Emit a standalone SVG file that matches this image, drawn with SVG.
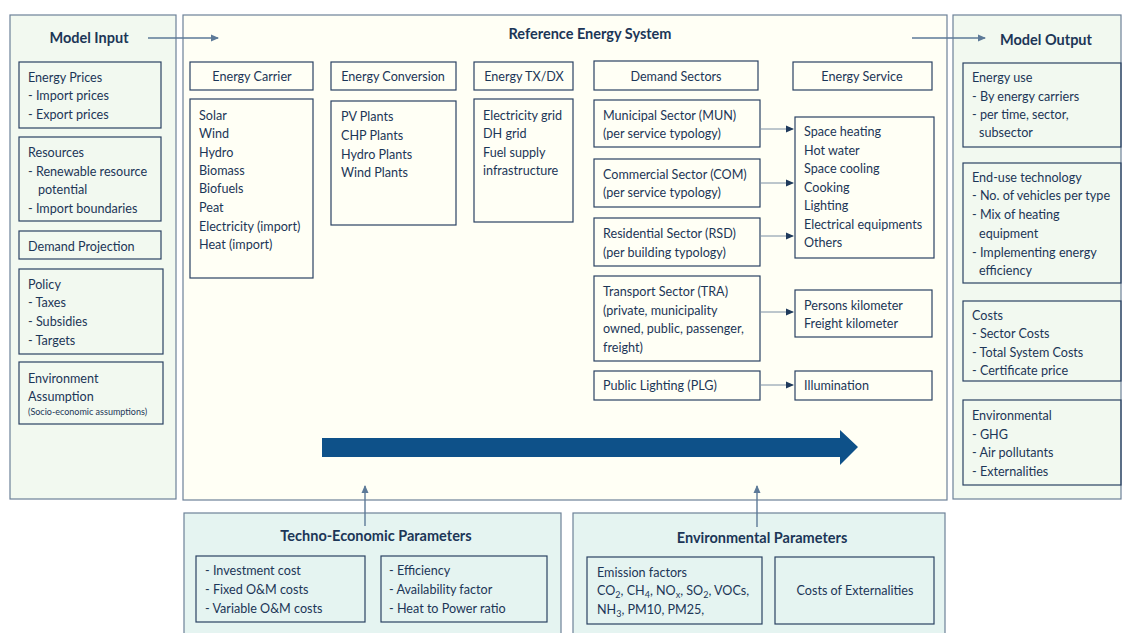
<svg xmlns="http://www.w3.org/2000/svg" width="1124" height="633" viewBox="0 0 1124 633">
  <style>
    text { font-family: Lato, "Open Sans", "Liberation Sans", sans-serif; fill: #1c3657; font-size: 12.6px; }
    .title { font-weight: bold; font-size: 14.5px; }
    .c { text-anchor: middle; }
    .small { font-size: 9px; }
    .panel { stroke: #6d8198; stroke-width: 1.2; }
    .side { fill: #f2f9f0; }
    .core { fill: #fffff5; }
    .param { fill: #e5f4f1; }
    .box { fill: none; stroke: #2a4263; stroke-width: 1.2; }
    .link { stroke: #5d7a98; stroke-width: 1.4; fill: none; }
    .thin { stroke: #7a8ea3; stroke-width: 1; fill: none; }
  </style>
  <defs>
    <marker id="tri" markerWidth="8" markerHeight="8" refX="7" refY="4" orient="auto" markerUnits="userSpaceOnUse">
      <path d="M0,0.5 L8,4 L0,7.5 Z" fill="#5d7a98"/>
    </marker>
    <marker id="triDark" markerWidth="8" markerHeight="8" refX="7" refY="4" orient="auto" markerUnits="userSpaceOnUse">
      <path d="M0,0.5 L8,4 L0,7.5 Z" fill="#1f3a5c"/>
    </marker>
  </defs>

  <rect width="1124" height="633" fill="#ffffff"/>

  <!-- Model input column -->
  <g id="model-input">
    <rect class="panel side" x="10" y="15" width="166" height="484"/>
    <text class="title c" x="89" y="43">Model Input</text>
  </g>
  <g id="energy-prices">
    <rect class="box" x="19" y="62" width="142" height="66"/>
    <text x="28" y="82">Energy Prices</text>
    <text x="28" y="100">- Import prices</text>
    <text x="28" y="119">- Export prices</text>
  </g>
  <g id="resources">
    <rect class="box" x="19" y="137" width="142" height="84"/>
    <text x="28" y="157">Resources</text>
    <text x="28" y="176">- Renewable resource</text>
    <text x="38" y="194">potential</text>
    <text x="28" y="213">- Import boundaries</text>
  </g>
  <g id="demand-projection">
    <rect class="box" x="19" y="231" width="142" height="28"/>
    <text x="28" y="251">Demand Projection</text>
  </g>
  <g id="policy">
    <rect class="box" x="19" y="269" width="144" height="85"/>
    <text x="28" y="289">Policy</text>
    <text x="28" y="307">- Taxes</text>
    <text x="28" y="326">- Subsidies</text>
    <text x="28" y="345">- Targets</text>
  </g>
  <g id="environment-assumption">
    <rect class="box" x="19" y="362" width="144" height="62"/>
    <text x="28" y="383">Environment</text>
    <text x="28" y="401">Assumption</text>
    <text class="small" x="28" y="415">(Socio-economic assumptions)</text>
  </g>

  <!-- Reference energy system -->
  <g id="reference-energy-system">
    <rect class="panel core" x="183" y="15" width="764" height="485"/>
    <text class="title c" x="590" y="39">Reference Energy System</text>
  </g>
  <g id="energy-carrier">
    <rect class="box" x="190" y="62" width="123" height="28"/>
    <text class="c" x="252" y="81">Energy Carrier</text>
    <rect class="box" x="190" y="99" width="123" height="179"/>
    <text x="199" y="120">Solar</text>
    <text x="199" y="138">Wind</text>
    <text x="199" y="157">Hydro</text>
    <text x="199" y="175">Biomass</text>
    <text x="199" y="193">Biofuels</text>
    <text x="199" y="212">Peat</text>
    <text x="199" y="231">Electricity (import)</text>
    <text x="199" y="249">Heat (import)</text>
  </g>
  <g id="energy-conversion">
    <rect class="box" x="331" y="62" width="125" height="28"/>
    <text class="c" x="393" y="81">Energy Conversion</text>
    <rect class="box" x="331" y="101" width="125" height="124"/>
    <text x="341" y="121">PV Plants</text>
    <text x="341" y="140">CHP Plants</text>
    <text x="341" y="159">Hydro Plants</text>
    <text x="341" y="177">Wind Plants</text>
  </g>
  <g id="energy-txdx">
    <rect class="box" x="474" y="62" width="99" height="28"/>
    <text class="c" x="524" y="81">Energy TX/DX</text>
    <rect class="box" x="474" y="99" width="99" height="123"/>
    <text x="483" y="120">Electricity grid</text>
    <text x="483" y="138">DH grid</text>
    <text x="483" y="157">Fuel supply</text>
    <text x="483" y="175">infrastructure</text>
  </g>
  <g id="demand-sectors">
    <rect class="box" x="594" y="61" width="164" height="29"/>
    <text class="c" x="676" y="81">Demand Sectors</text>
  </g>
  <g id="energy-service">
    <rect class="box" x="793" y="62" width="139" height="28"/>
    <text class="c" x="862" y="81">Energy Service</text>
  </g>
  <g id="mun">
    <rect class="box" x="594" y="100" width="166" height="47"/>
    <text x="603" y="120">Municipal Sector (MUN)</text>
    <text x="603" y="138">(per service typology)</text>
  </g>
  <g id="com">
    <rect class="box" x="594" y="159" width="166" height="48"/>
    <text x="603" y="179">Commercial Sector (COM)</text>
    <text x="603" y="197">(per service typology)</text>
  </g>
  <g id="rsd">
    <rect class="box" x="594" y="218" width="166" height="48"/>
    <text x="603" y="238">Residential Sector (RSD)</text>
    <text x="603" y="257">(per building typology)</text>
  </g>
  <g id="building-services">
    <rect class="box" x="795" y="117" width="139" height="141"/>
    <text x="804" y="136">Space heating</text>
    <text x="804" y="155">Hot water</text>
    <text x="804" y="173">Space cooling</text>
    <text x="804" y="192">Cooking</text>
    <text x="804" y="210">Lighting</text>
    <text x="804" y="229">Electrical equipments</text>
    <text x="804" y="247">Others</text>
  </g>
  <g id="tra">
    <rect class="box" x="594" y="276" width="166" height="85"/>
    <text x="603" y="296">Transport Sector (TRA)</text>
    <text x="603" y="315">(private, municipality</text>
    <text x="603" y="333">owned, public, passenger,</text>
    <text x="603" y="352">freight)</text>
  </g>
  <g id="transport-services">
    <rect class="box" x="795" y="290" width="137" height="47"/>
    <text x="804" y="310">Persons kilometer</text>
    <text x="804" y="328">Freight kilometer</text>
  </g>
  <g id="plg">
    <rect class="box" x="594" y="371" width="166" height="29"/>
    <text x="603" y="390">Public Lighting (PLG)</text>
  </g>
  <g id="illumination">
    <rect class="box" x="795" y="371" width="137" height="29"/>
    <text x="804" y="390">Illumination</text>
  </g>

  <!-- Model output column -->
  <g id="model-output">
    <rect class="panel side" x="953" y="15" width="168" height="484"/>
    <text class="title c" x="1046" y="45">Model Output</text>
  </g>
  <g id="energy-use">
    <rect class="box" x="963" y="63" width="158" height="84"/>
    <text x="972" y="82">Energy use</text>
    <text x="972" y="101">- By energy carriers</text>
    <text x="972" y="119">- per time, sector,</text>
    <text x="979" y="137">subsector</text>
  </g>
  <g id="end-use-technology">
    <rect class="box" x="963" y="163" width="158" height="120"/>
    <text x="972" y="182">End-use technology</text>
    <text x="972" y="200">- No. of vehicles per type</text>
    <text x="972" y="219">- Mix of heating</text>
    <text x="979" y="238">equipment</text>
    <text x="972" y="257">- Implementing energy</text>
    <text x="979" y="275">efficiency</text>
  </g>
  <g id="costs">
    <rect class="box" x="963" y="301" width="158" height="80"/>
    <text x="972" y="320">Costs</text>
    <text x="972" y="338">- Sector Costs</text>
    <text x="972" y="357">- Total System Costs</text>
    <text x="972" y="375">- Certificate price</text>
  </g>
  <g id="environmental-output">
    <rect class="box" x="963" y="400" width="158" height="85"/>
    <text x="972" y="420">Environmental</text>
    <text x="972" y="439">- GHG</text>
    <text x="972" y="457">- Air pollutants</text>
    <text x="972" y="476">- Externalities</text>
  </g>

  <!-- Parameter panels -->
  <g id="techno-economic-parameters">
    <rect class="panel param" x="184" y="513" width="377" height="125"/>
    <text class="title c" x="376" y="541">Techno-Economic Parameters</text>
    <rect class="box" x="196" y="556" width="169" height="66"/>
    <text x="205" y="575">- Investment cost</text>
    <text x="205" y="594">- Fixed O&amp;M costs</text>
    <text x="205" y="613">- Variable O&amp;M costs</text>
    <rect class="box" x="381" y="556" width="166" height="66"/>
    <text x="389" y="575">- Efficiency</text>
    <text x="389" y="594">- Availability factor</text>
    <text x="389" y="613">- Heat to Power ratio</text>
  </g>
  <g id="environmental-parameters">
    <rect class="panel param" x="573" y="513" width="372" height="125"/>
    <text class="title c" x="762" y="543">Environmental Parameters</text>
    <rect class="box" x="587" y="557" width="175" height="67"/>
    <text x="597" y="577">Emission factors</text>
    <text x="597" y="595">CO<tspan font-size="9" dy="3">2</tspan><tspan dy="-3">, CH</tspan><tspan font-size="9" dy="3">4</tspan><tspan dy="-3">, NO</tspan><tspan font-size="9" dy="3">x</tspan><tspan dy="-3">, SO</tspan><tspan font-size="9" dy="3">2</tspan><tspan dy="-3">, VOCs,</tspan></text>
    <text x="597" y="614">NH<tspan font-size="9" dy="3">3</tspan><tspan dy="-3">, PM10, PM25,</tspan></text>
    <rect class="box" x="775" y="557" width="159" height="67"/>
    <text class="c" x="855" y="595">Costs of Externalities</text>
  </g>

  <!-- Connectors -->
  <g id="connectors">
    <line class="link" x1="148" y1="38" x2="218" y2="38" marker-end="url(#tri)"/>
    <line class="link" x1="912" y1="38" x2="985" y2="38" marker-end="url(#tri)"/>
    <line class="thin" x1="760" y1="129" x2="793" y2="129" marker-end="url(#triDark)"/>
    <line class="thin" x1="760" y1="183" x2="793" y2="183" marker-end="url(#triDark)"/>
    <line class="thin" x1="760" y1="236" x2="793" y2="236" marker-end="url(#triDark)"/>
    <line class="thin" x1="760" y1="312" x2="793" y2="312" marker-end="url(#triDark)"/>
    <line class="thin" x1="760" y1="385" x2="793" y2="385" marker-end="url(#triDark)"/>
    <line class="link" x1="365" y1="526" x2="365" y2="486" marker-end="url(#tri)"/>
    <line class="link" x1="757" y1="527" x2="757" y2="486" marker-end="url(#tri)"/>
    <!-- overall flow arrow -->
    <path d="M322,438 L840,438 L840,430 L858,447 L840,465 L840,457 L322,457 Z" fill="#0e5189"/>
  </g>
</svg>
